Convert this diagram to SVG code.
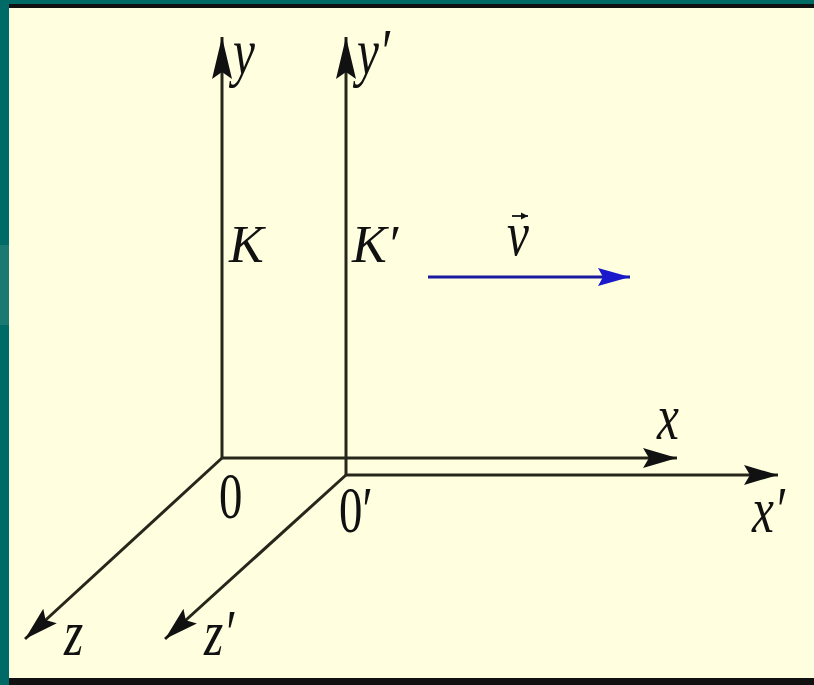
<svg xmlns="http://www.w3.org/2000/svg" width="814" height="685" viewBox="0 0 814 685">
<defs>
<style>
.ax{stroke:#26261a;stroke-width:3;fill:none}
.lb{font-family:"Liberation Serif","Times New Roman",serif;font-style:italic;font-size:52px;fill:#111}
.dg{font-family:"Liberation Serif","Times New Roman",serif;font-size:52px;fill:#111}
</style>
<marker id="ah" markerUnits="userSpaceOnUse" markerWidth="44" markerHeight="22" viewBox="0 0 44 22" refX="42" refY="11" orient="auto">
<path d="M0,1 L42,11 L0,21 L7,11 Z" fill="#111"/>
</marker>
<marker id="ahx" markerUnits="userSpaceOnUse" markerWidth="36" markerHeight="22" viewBox="0 0 36 22" refX="34" refY="11" orient="auto">
<path d="M0,1 L34,11 L0,21 L6,11 Z" fill="#111"/>
</marker>
<marker id="ahb" markerUnits="userSpaceOnUse" markerWidth="34" markerHeight="22" viewBox="0 0 34 22" refX="32" refY="11" orient="auto">
<path d="M0,2 L32,11 L0,20 L5,11 Z" fill="#1a1acc"/>
</marker>
<marker id="ahs" markerUnits="userSpaceOnUse" markerWidth="8" markerHeight="8" viewBox="0 0 8 8" refX="7" refY="4" orient="auto">
<path d="M0,0.5 L7,4 L0,7.5 Z" fill="#111"/>
</marker>
</defs>
<rect x="0" y="0" width="814" height="685" fill="#006a66"/>
<rect x="0" y="245" width="9" height="80" fill="#1a7a72"/>
<rect x="9" y="4" width="805" height="4" fill="#111"/>
<rect x="9" y="8" width="805" height="670" fill="#ffffe0"/>
<rect x="9" y="678" width="805" height="7" fill="#111"/>
<g id="connectors">
<line class="ax" x1="222" y1="459" x2="222" y2="37" marker-end="url(#ah)"/>
<line class="ax" x1="346" y1="476" x2="346" y2="37" marker-end="url(#ah)"/>
<line class="ax" x1="221" y1="458" x2="677" y2="458" marker-end="url(#ahx)"/>
<line class="ax" x1="345" y1="475" x2="778" y2="475" marker-end="url(#ahx)"/>
<line class="ax" x1="222" y1="458" x2="25" y2="639" marker-end="url(#ahx)"/>
<line class="ax" x1="346" y1="475" x2="165" y2="639" marker-end="url(#ahx)"/>
<line x1="428" y1="277" x2="630" y2="277" stroke="#1a1aa0" stroke-width="3" marker-end="url(#ahb)"/>
</g>
<g id="K">
<text class="lb" transform="translate(233,74) scale(0.95,1.27)">y</text>
<text class="lb" x="229" y="262">K</text>
<text class="dg" transform="translate(219,518) scale(0.9,1.28)">0</text>
<text class="lb" transform="translate(657,439) scale(0.95,1.27)">x</text>
<text class="lb" transform="translate(64,655) scale(0.95,1.27)">z</text>
</g>
<g id="Kprime">
<text class="lb" transform="translate(357,74) scale(0.95,1.27)">y′</text>
<text class="lb" x="352" y="262">K′</text>
<text class="dg" transform="translate(339,532) scale(0.9,1.28)">0′</text>
<text class="lb" transform="translate(752,532) scale(0.95,1.27)">x′</text>
<text class="lb" transform="translate(204,655) scale(0.95,1.27)">z′</text>
</g>
<g id="velocity">
<text class="lb" transform="translate(507,255) scale(0.95,1.2)">v</text>
<line x1="512" y1="216" x2="528" y2="216" stroke="#111" stroke-width="1.8" marker-end="url(#ahs)"/>
</g>
</svg>
